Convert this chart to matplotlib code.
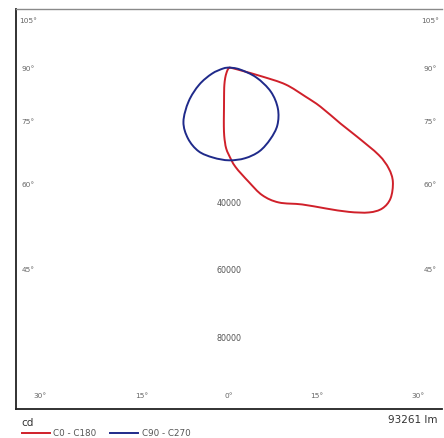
import numpy as np
import matplotlib
matplotlib.use("Agg")
import matplotlib.pyplot as plt
from matplotlib.path import Path
from matplotlib.patches import PathPatch

# Luminous intensity (cd) against gamma angle (deg from the downward vertical)
gammaC0 = [0, 3.7, 9.8, 14.6, 20.2, 28.1, 34.4, 39.7, 44, 47.4, 51, 55.1, 57.7,
           59.7, 61.6, 63.3, 66.8, 69.2, 73.3, 74.8, 76, 78, 80, 90]
cdC0 = [26000, 29500, 34400, 39100, 42600, 46000, 50600, 55600, 59700, 61700,
        61600, 59200, 56000, 51400, 43200, 37000, 29500, 24200, 17500, 10200,
        4000, 1500, 600, 0]
gammaC180 = [0, 2, 3, 4, 5, 6, 7, 8, 10, 12, 15, 20, 25, 30, 40]
cdC180 = [26000, 24000, 22300, 20300, 17500, 14500, 12200, 10600, 8400, 6900,
          5300, 3300, 1800, 800, 0]

gammaC90 = [0, 10, 20, 30, 40, 50, 60, 70, 80, 90]
cdC90 = [27500, 27300, 26400, 24500, 22300, 18900, 14300, 8600, 3200, 0]
cdC270 = [27500, 27100, 26400, 24300, 21000, 15600, 10200, 5400, 1800, 0]

ringLabels = [40000, 60000, 80000]
sideAngles = [105, 90, 75, 60, 45]
bottomAngles = [30, 15, 0]
fluxText = "93261 lm"

W, H = 444, 439
k = 296.3  # cd per pixel
cx, cy = 229, 68.5  # luminaire position in pixels
left, right, top, bottom = 16, 442, 10, 410


def toxy(gamma, cd, sign=1):
    g = np.radians(np.asarray(gamma, dtype=float))
    cd = np.asarray(cd, dtype=float)
    return sign * cd * np.sin(g), -cd * np.cos(g)


def smoothPath(x, y):
    # Catmull-Rom through the read points, drawn as cubic Bezier segments
    p = np.column_stack([x, y])
    pp = np.vstack([p[0], p, p[-1]])
    verts = [p[0]]
    codes = [Path.MOVETO]
    for i in range(1, len(pp) - 2):
        c1 = pp[i] + (pp[i + 1] - pp[i - 1]) / 6.0
        c2 = pp[i + 1] - (pp[i + 2] - pp[i]) / 6.0
        verts += [c1, c2, pp[i + 1]]
        codes += [Path.CURVE4] * 3
    return Path(verts, codes)


fig = plt.figure(figsize=(W / 100, H / 100), dpi=100)
ax = fig.add_axes([left / W, 1 - bottom / H, (right - left) / W, (bottom - top) / H])
ax.set_xlim((left - cx) * k, (right - cx) * k)
ax.set_ylim(-(bottom - cy) * k, (cy - top) * k)
ax.set_xticks([])
ax.set_yticks([])
ax.spines["right"].set_visible(False)
ax.spines["top"].set_color("#8a8a8a")
ax.spines["top"].set_linewidth(1.0)
for s in ["left", "bottom"]:
    ax.spines[s].set_color("#222222")
    ax.spines[s].set_linewidth(1.3)

# C0 - C180 curve (C0 to the right, C180 to the left)
x0, y0 = toxy(gammaC0, cdC0, 1)
x1, y1 = toxy(gammaC180, cdC180, -1)
xr = np.concatenate([x1[::-1], x0[1:]])
yr = np.concatenate([y1[::-1], y0[1:]])
ax.add_patch(PathPatch(smoothPath(xr, yr), fill=False, edgecolor="#d0202a", lw=1.4))

# C90 - C270 curve
x2, y2 = toxy(gammaC90, cdC90, 1)
x3, y3 = toxy(gammaC90, cdC270, -1)
xb = np.concatenate([x3[::-1], x2[1:]])
yb = np.concatenate([y3[::-1], y2[1:]])
ax.add_patch(PathPatch(smoothPath(xb, yb), fill=False, edgecolor="#1f2a8a", lw=1.4))

# intensity labels along the vertical axis
for r in ringLabels:
    ax.text(0, -r, str(r), ha="center", va="center", fontsize=5.8, color="#555555")

# angle labels round the frame
inset = 201 * k
for a in sideAngles:
    yy = -inset / np.tan(np.radians(a)) if a != 90 else 0
    if a > 90:
        yy = -(21 - cy) * k
    for sgn in (-1, 1):
        ax.text(sgn * inset, yy, "%d°" % a, ha="center", va="center",
                fontsize=5.3, color="#666666")
ybot = -(396 - cy) * k
for a in bottomAngles:
    xx = -ybot * np.tan(np.radians(a))
    xx = min(xx, inset)
    for sgn in ((-1, 1) if a else (1,)):
        ax.text(sgn * xx, ybot, "%d°" % a, ha="center", va="center",
                fontsize=5.3, color="#666666")

# legend and flux under the frame
fig.text(21 / W, 1 - 423 / H, "cd", fontsize=7.5, color="#333333", va="center")
fig.text(437 / W, 1 - 420 / H, fluxText, fontsize=7.5, color="#333333",
         ha="right", va="center")
fig.add_artist(plt.Line2D([22 / W, 50 / W], [1 - 434 / H] * 2, color="#d0202a", lw=1.4))
fig.text(53 / W, 1 - 434 / H, "C0 - C180", fontsize=6.3, color="#555555", va="center")
fig.add_artist(plt.Line2D([110 / W, 138 / W], [1 - 434 / H] * 2, color="#1f2a8a", lw=1.4))
fig.text(142 / W, 1 - 434 / H, "C90 - C270", fontsize=6.3, color="#555555", va="center")

plt.savefig("out.png", dpi=100)
plt.close()
